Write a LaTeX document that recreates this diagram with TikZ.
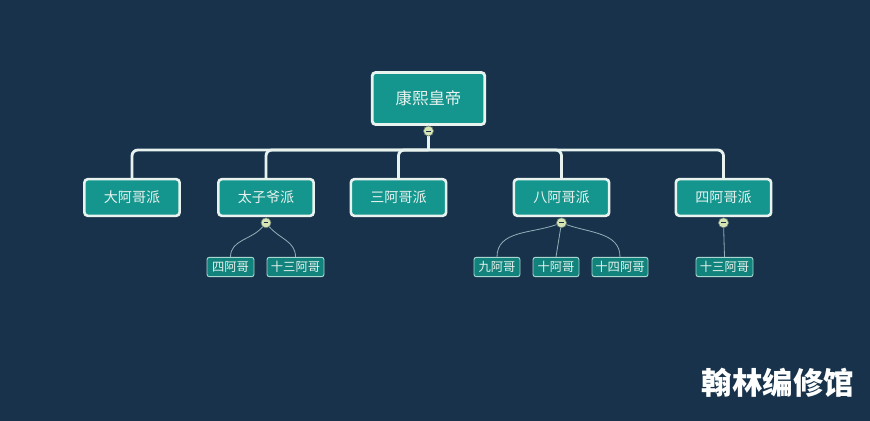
\documentclass[tikz,border=0pt]{standalone}
\usepackage{fontspec}
\setmainfont{Noto Sans CJK SC}
\definecolor{qNavy}{HTML}{17324A}
\definecolor{qTeal}{HTML}{14958D}
\definecolor{qEdge}{HTML}{E8F3EF}
\definecolor{qLine}{HTML}{8FAFB6}
\definecolor{qKnob}{HTML}{D6E4B4}
\usetikzlibrary{positioning}

\begin{document}
\begin{tikzpicture}[x=0.03cm, y=-0.03cm,
  trunk/.style={qEdge, line width=2.4pt},
  twig/.style={qLine, line width=0.7pt},
  rootbox/.style={fill=qTeal, draw=qEdge, line width=2.4pt, rounded corners=3pt,
    minimum width=3.38cm, minimum height=1.56cm, text=qEdge, font=\fontsize{14}{16}\selectfont},
  factbox/.style={fill=qTeal, draw=qEdge, line width=2.2pt, rounded corners=3pt,
    minimum width=2.86cm, minimum height=1.1cm, text=qEdge, font=\fontsize{12}{14}\selectfont},
  leafbox/.style={fill=qTeal!88!black, draw=qEdge!70!qTeal, line width=0.8pt, rounded corners=2pt,
    minimum height=0.58cm, inner xsep=1pt, text=qEdge, font=\fontsize{10.5}{12}\selectfont},
  knob/.style={circle, fill=qKnob, draw=qLine!60!black, line width=0.4pt, minimum size=0.3cm, inner sep=0pt,
    path picture={\draw[qNavy, line width=0.6pt] ([xshift=-1.9pt]path picture bounding box.center) -- ++(3.8pt,0);}}]
  \fill[qNavy] (0,0) rectangle (870,421);

  % emperor and the five factions
  \node[rootbox] (kangxi) at (428.5,98.5) {康熙皇帝};
  \coordinate (bar) at (428.5,150);
  \foreach \n/\x/\t in {da/132/大阿哥派, tz/266/太子爷派, san/398.5/三阿哥派, ba/561.5/八阿哥派, si/723.5/四阿哥派}{
    \node[factbox] (\n) at (\x,197.5) {\t};
    \draw[trunk, rounded corners=5pt] (bar) -| (\n.north);}
  \node[knob] (k0) at (428.5,131) {};
  \draw[trunk] (k0) -- (bar);
  \node[knob] (k0) at (428.5,131) {};

  % princes below each faction
  \node[leafbox, minimum width=1.41cm] (tz1) at (230.5,267) {四阿哥};
  \node[leafbox, minimum width=1.71cm] (tz2) at (295.5,267) {十三阿哥};
  \node[leafbox, minimum width=1.38cm] (ba1) at (497,267) {九阿哥};
  \node[leafbox, minimum width=1.38cm] (ba2) at (556,267) {十阿哥};
  \node[leafbox, minimum width=1.68cm] (ba3) at (620,267) {十四阿哥};
  \node[leafbox, minimum width=1.71cm] (si1) at (724.5,267) {十三阿哥};
  \foreach \n in {tz,ba,si}{
    \node[knob] (k\n) at (\n.south) [yshift=-0.17cm] {};}
  \draw[twig] (ktz) to[out=230,in=90] (tz1.north);
  \draw[twig] (ktz) to[out=-50,in=90] (tz2.north);
  \draw[twig] (kba) to[out=200,in=90] (ba1.north);
  \draw[twig] (kba) -- (ba2.north);
  \draw[twig] (kba) to[out=-20,in=90] (ba3.north);
  \draw[twig] (ksi) -- (si1.north);
  \foreach \n in {tz,ba,si}{
    \node[knob] at (k\n) {};}

  \node[text=white, font=\fontsize{26}{30}\selectfont\bfseries] (mark) at (778,383) {翰林编修馆};
\end{tikzpicture}
\end{document}
